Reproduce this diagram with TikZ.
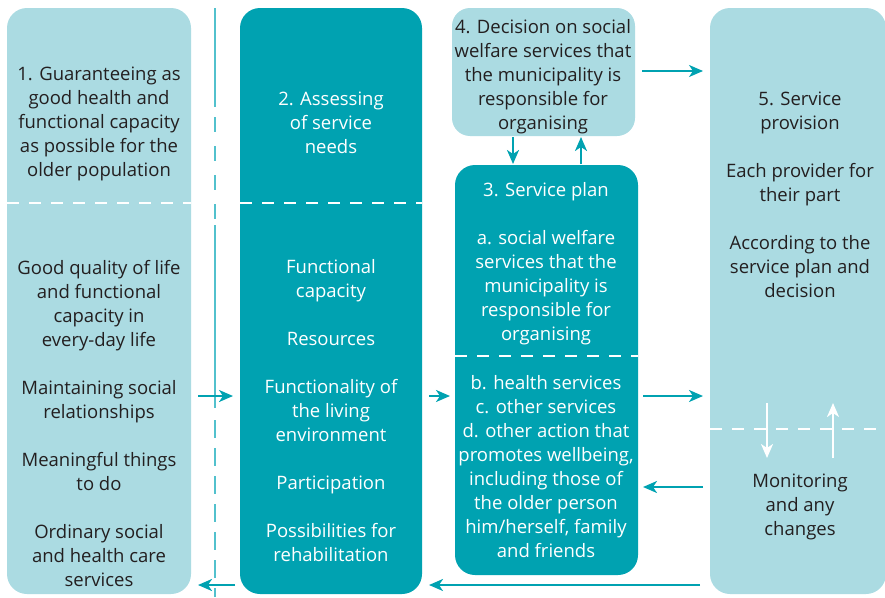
\documentclass[tikz,border=0pt]{standalone}
\usepackage{fontspec}
\setmainfont{Open Sans}
\usepackage{xcolor}
\usepackage{tikz}
\usetikzlibrary{arrows.meta, calc}
\definecolor{careteal}{HTML}{00A2B1}
\definecolor{carelight}{HTML}{ABDBE2}
\definecolor{careline}{HTML}{52C1CD}
\definecolor{caretext}{HTML}{231F20}
\newcommand{\panelfont}{\fontsize{18.5}{24}\selectfont}

\begin{document}
\begin{tikzpicture}[
  x=1pt, y=-1pt,
  panel/.style={rectangle, rounded corners=20pt, inner sep=0pt, outer sep=0pt},
  lightpanel/.style={panel, fill=carelight},
  darkpanel/.style={panel, fill=careteal},
  dtext/.style={align=center, inner sep=0pt, font=\panelfont, text=caretext},
  wtext/.style={align=center, inner sep=0pt, font=\panelfont, text=white},
  sep/.style={white, line width=2pt, dash pattern=on 12pt off 10pt},
  guide/.style={careline, line width=2pt},
  arr/.style={careteal, line width=2.2pt, -{Stealth[length=14pt,width=12pt,inset=4pt]}, shorten <=7pt, shorten >=7pt},
  warr/.style={white, line width=2pt, -{Stealth[length=14pt,width=12pt,inset=4pt]}}
]
\useasboundingbox (0,0) rectangle (885,597);

% thin guide line between the first two columns
\draw[guide] (215,8) -- (215,107);
\draw[guide, dash pattern=on 15pt off 14pt] (215,117) -- (215,219);
\draw[guide] (215,225) -- (215,408);
\draw[guide, dash pattern=on 18pt off 10pt] (215,420) -- (215,597);

% panels
\node[lightpanel, minimum width=184pt, minimum height=586pt] (p1) at (99,301) {};
\node[darkpanel, minimum width=182pt, minimum height=586pt] (p2) at (331,301) {};
\node[lightpanel, minimum width=183pt, minimum height=128pt, rounded corners=18pt] (p4) at (543.5,72) {};
\node[darkpanel, minimum width=183pt, minimum height=410pt] (p3) at (546.5,370) {};
\node[lightpanel, minimum width=176pt, minimum height=586pt] (p5) at (798,301) {};

% dashed splits inside the panels
\coordinate (cutA) at (0,203);
\coordinate (cutB) at (0,356);
\coordinate (cutC) at (0,429);
\draw[sep] (p1.west |- cutA) -- (p1.east |- cutA);
\draw[sep] (p2.west |- cutA) -- (p2.east |- cutA);
\draw[sep] (p3.west |- cutB) -- (p3.east |- cutB);
\draw[sep] (p5.west |- cutC) -- (p5.east |- cutC);

% texts
\node[dtext] (t1a) at (99,124) {1. Guaranteeing as\\good health and\\functional capacity\\as possible for the\\older population};
\node[dtext] (t1b) at (99,424) {Good quality of life\\and functional\\capacity in\\every-day life\\[24pt]Maintaining social\\relationships\\[24pt]Meaningful things\\to do\\[24pt]Ordinary social\\and health care\\services};
\node[wtext] (t2a) at (331,123) {2. Assessing\\of service\\needs};
\node[wtext] (t2b) at (331,411) {Functional\\capacity\\[24pt]Resources\\[24pt]Functionality of\\the living\\environment\\[24pt]Participation\\[24pt]Possibilities for\\rehabilitation};
\node[dtext] (t4) at (543,77) {4. Decision on social\\welfare services that\\the municipality is\\responsible for\\organising};
\node[wtext] (t3a) at (546,264) {3. Service plan\\[24pt]a. social welfare\\services that the\\municipality is\\responsible for\\organising};
\node[wtext] (t3b) at (546,467) {b. health services\\c. other services\\d. other action that\\promotes wellbeing,\\including those of\\the older person\\him/herself, family\\and friends};
\node[dtext] (t5a) at (800,195) {5. Service\\provision\\[24pt]Each provider for\\their part\\[24pt]According to the\\service plan and\\decision};
\node[dtext] (t5b) at (800,507) {Monitoring\\and any\\changes};

% connectors
\coordinate (rowT) at (0,71);
\coordinate (rowM) at (0,396);
\coordinate (rowR) at (0,487);
\coordinate (rowB) at (0,585);
\coordinate (colD) at (513,0);
\coordinate (colU) at (581,0);
\draw[arr] (p4.east |- rowT) -- (p5.west |- rowT);
\draw[arr, shorten <=1pt, shorten >=1pt] (colD |- p4.south) -- (colD |- p3.north);
\draw[arr, shorten <=1pt, shorten >=1pt] (colU |- p3.north) -- (colU |- p4.south);
\draw[arr] (p1.east |- rowM) -- (p2.west |- rowM);
\draw[arr, shorten >=5pt] (p2.east |- rowM) -- (p3.west |- rowM);
\draw[arr, shorten <=5pt] (p3.east |- rowM) -- (p5.west |- rowM);
\draw[arr, shorten >=5pt] (p5.west |- rowR) -- (p3.east |- rowR);
\draw[arr, shorten <=10pt] (p5.west |- rowB) -- (p2.east |- rowB);
\draw[arr, shorten <=5pt] (p2.west |- rowB) -- (p1.east |- rowB);

% monitoring loop
\coordinate (fbA) at (767,403);
\coordinate (fbB) at (767,458);
\coordinate (fbC) at (833,458);
\coordinate (fbD) at (833,403);
\draw[warr] (fbA) -- (fbB);
\draw[warr] (fbC) -- (fbD);
\end{tikzpicture}
\end{document}
